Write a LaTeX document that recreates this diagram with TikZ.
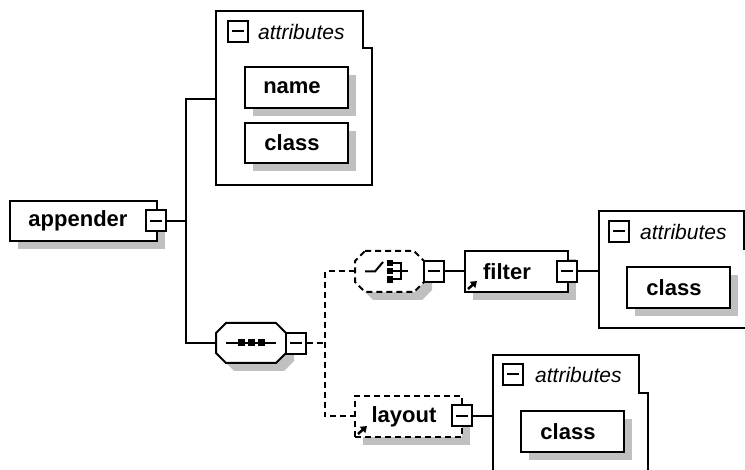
\documentclass[tikz,border=0pt]{standalone}
\usepackage{fontspec}
\setmainfont{Liberation Sans}
\usetikzlibrary{shadows,calc,arrows.meta}
\definecolor{shd}{HTML}{C0C0C0}
\tikzset{
  ln/.style={line width=2pt},
  dsh/.style={line width=2pt, dash pattern=on 6pt off 4pt},
  elem/.style={draw, line width=2pt, fill=white, inner sep=0pt, minimum height=41pt,
    font=\fontsize{22}{24}\selectfont\bfseries,
    drop shadow={shadow xshift=8pt, shadow yshift=-8pt, fill=shd, opacity=1}},
  minusbox/.style={draw, line width=2pt, fill=white, minimum width=20pt, minimum height=21pt, inner sep=0pt,
    path picture={\draw[line width=2pt] ([xshift=4pt]path picture bounding box.west) -- ([xshift=-4pt]path picture bounding box.east);}},
  frame/.style={draw, line width=2pt, fill=white},
  attrtext/.style={anchor=west, inner sep=0pt, font=\fontsize{21}{24}\selectfont\itshape},
  refarrow/.style={line width=2.5pt, -{Triangle[length=6pt,width=8pt]}},
  hidden/.style={inner sep=0pt, draw=none},
}
\newcommand\SeqOct{(226,323) -- (276,323) -- (286,333) -- (286,353) -- (276,363) -- (226,363) -- (216,353) -- (216,333) -- cycle}
\newcommand\ChoOct{(365,251) -- (414,251) -- (424,261) -- (424,282) -- (414,292) -- (365,292) -- (355,282) -- (355,261) -- cycle}
\begin{document}
\begin{tikzpicture}[x=1pt,y=-1pt]
\useasboundingbox (0,0) rectangle (745,470);
\clip (0,0) rectangle (745,470);

% attribute frames
\draw[frame] (216,11) -- (363,11) -- (363,48) -- (372,48) -- (372,185) -- (216,185) -- cycle;
\draw[frame] (599,211) -- (744,211) -- (744,249) -- (753,249) -- (753,328) -- (599,328) -- cycle;
\draw[frame] (493,355) -- (639,355) -- (639,393) -- (648,393) -- (648,480) -- (493,480) -- cycle;

\node[minusbox] (at1m) at (237.5,31.5) {};
\node[attrtext] (at1t) at (258,31.5) {attributes};
\node[minusbox] (at2m) at (619,231.5) {};
\node[attrtext] (at2t) at (640,231.5) {attributes};
\node[minusbox] (at3m) at (513,374.5) {};
\node[attrtext] (at3t) at (535,374.5) {attributes};

\coordinate (at1in) at (216,99);
\coordinate (at2in) at (599,271.5);
\coordinate (at3in) at (493,416);
\coordinate (j1) at (186,221);
\coordinate (j2) at (325,343.5);

% element boxes
\node[elem, minimum width=147pt, minimum height=40pt] (app) at (83.5,221) {appender\hspace*{11pt}};
\node[elem, minimum width=103pt] (name) at (296.5,87.5) {name\hspace*{9pt}};
\node[elem, minimum width=103pt, minimum height=40pt] (cls1) at (296.5,143) {class\hspace*{9pt}};
\node[elem, minimum width=103pt] (cls2) at (678.5,287.5) {class\hspace*{9pt}};
\node[elem, minimum width=103pt] (cls3) at (572.5,431.5) {class\hspace*{9pt}};
\node[elem, minimum width=103pt] (filt) at (516.5,271.5) {filter\hspace*{19pt}};
\node[elem, dsh, minimum width=107pt] (lay) at (408.5,416.5) {layout\hspace*{9pt}};

\draw[refarrow] ($(filt.south west)+(4,-4)$) -- ++(9,-8);
\draw[refarrow] ($(lay.south west)+(4,-4)$) -- ++(9,-8);

% sequence compositor
\node[hidden, minimum width=70pt, minimum height=40pt] (seq) at (251,343) {};
\fill[shd, shift={(8,8)}] \SeqOct;
\draw[ln, fill=white] \SeqOct;
\draw[ln] (226,343) -- (276,343);
\fill (238,339.5) rectangle (245,346.5);
\fill (248,339.5) rectangle (255,346.5);
\fill (258,339.5) rectangle (265,346.5);

% choice compositor
\node[hidden, minimum width=69pt, minimum height=41pt] (cho) at (389.5,271.5) {};
\fill[shd, shift={(8,8)}] \ChoOct;
\draw[dsh, fill=white] \ChoOct;
\draw[ln] (365,271.5) -- (375,271.5) -- (383,262);
\fill (386.5,260) rectangle (393,266.5);
\fill (386.5,268.5) rectangle (393,274.5);
\fill (386.5,276.5) rectangle (393,283);
\draw[ln] (393,263.5) -- (401,263.5) -- (401,279.5) -- (393,279.5);
\draw[ln] (393,271.5) -- (408,271.5);

% minus boxes
\node[minusbox] (appm) at (156,221) {};
\node[minusbox] (seqm) at (296,343.5) {};
\node[minusbox] (chom) at (433.5,271.5) {};
\node[minusbox] (film) at (567,271.5) {};
\node[minusbox] (laym) at (462,416) {};

% connectors
\draw[ln] (appm.east) -- (j1);
\draw[ln] (at1in) -| (j1) |- (seq.west);
\draw[dsh] (seqm.east) -- (j2);
\draw[dsh] (cho.west) -| (j2) |- (lay.west);
\draw[ln] (chom.east) -- (filt.west);
\draw[ln] (film.east) -- (at2in);
\draw[ln] (laym.east) -- (at3in);
\end{tikzpicture}
\end{document}
